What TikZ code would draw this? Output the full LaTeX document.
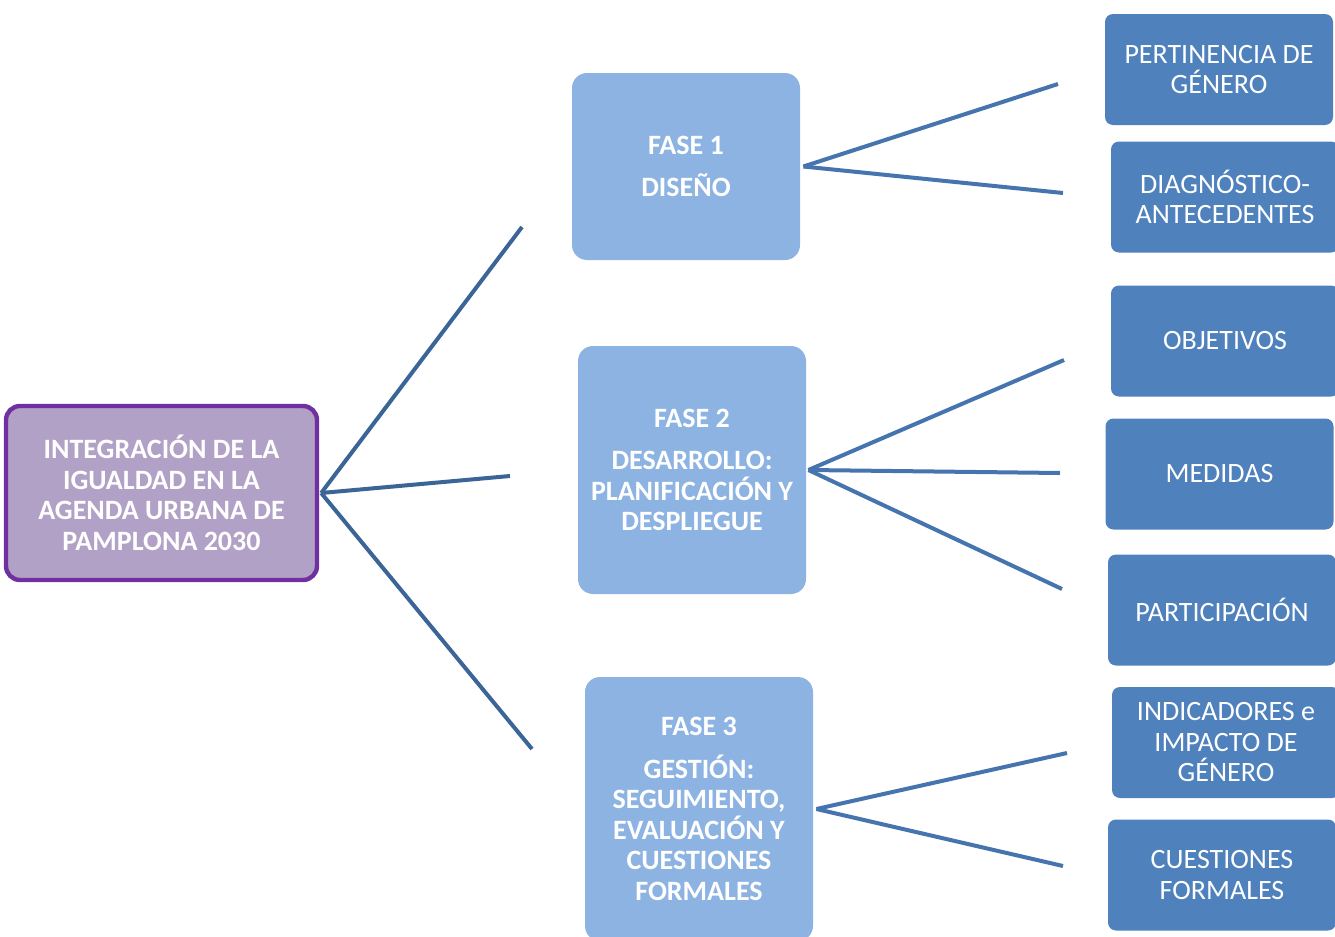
\documentclass[tikz,border=0pt]{standalone}
\usepackage{fontspec}
\setmainfont{Carlito}
\usepackage{xcolor}
\definecolor{moradoborde}{HTML}{7030A0}
\definecolor{moradofondo}{HTML}{B2A1C7}
\definecolor{fasefondo}{HTML}{8DB3E2}
\definecolor{itemfondo}{HTML}{4F81BD}
\definecolor{ramaizq}{HTML}{3B6597}
\definecolor{ramader}{HTML}{4674AE}

\begin{document}
\begin{tikzpicture}[x=0.5pt,y=-0.5pt,
  raiz/.style={draw=moradoborde, line width=2.2pt, fill=moradofondo, rounded corners=7pt,
    minimum width=155.5pt, minimum height=87pt, align=center, text=white,
    font=\fontsize{14}{15.25}\selectfont\bfseries},
  fase/.style={fill=fasefondo, rounded corners=7.5pt, minimum width=114pt,
    align=center, text=white, font=\fontsize{14}{15.25}\selectfont\bfseries},
  item/.style={fill=itemfondo, rounded corners=4pt, minimum width=114pt, minimum height=55.5pt,
    align=center, text=white, font=\fontsize{14}{15.25}\selectfont},
  rama/.style={ramaizq, line width=2pt},
  subrama/.style={ramader, line width=2pt}]
\useasboundingbox (0,0) rectangle (1335,937);

% Central node
\node[raiz] (raiz) at (161.5,493) {INTEGRACIÓN DE LA\\IGUALDAD EN LA\\AGENDA URBANA DE\\PAMPLONA 2030};

% Phases
\node[fase, minimum height=93.5pt] (fase1) at (686,166.5) {FASE 1\\[6pt]DISEÑO};
\node[fase, minimum height=124pt] (fase2) at (692,470) {FASE 2\\[6pt]DESARROLLO:\\PLANIFICACIÓN Y\\DESPLIEGUE};
\node[fase, minimum height=132pt] (fase3) at (699,809) {FASE 3\\[6pt]GESTIÓN:\\SEGUIMIENTO,\\EVALUACIÓN Y\\CUESTIONES\\FORMALES};

% Items
\node[item] (pert) at (1219,69.5) {PERTINENCIA DE\\GÉNERO};
\node[item] (diag) at (1225,197) {DIAGNÓSTICO-\\ANTECEDENTES};
\node[item] (obj) at (1225,341) {OBJETIVOS};
\node[item] (med) at (1219.5,474) {MEDIDAS};
\node[item] (part) at (1222,610) {PARTICIPACIÓN};
\node[item] (ind) at (1226,742.5) {INDICADORES e\\IMPACTO DE\\GÉNERO};
\node[item] (cue) at (1222,875) {CUESTIONES\\FORMALES};

% Free ends of the branches
\coordinate (r1) at (522,227);
\coordinate (r2) at (510,476);
\coordinate (r3) at (532,749);
\coordinate (a1) at (1058,84);
\coordinate (a2) at (1063,193);
\coordinate (b1) at (1064,360);
\coordinate (b2) at (1060,473);
\coordinate (b3) at (1062,589);
\coordinate (c1) at (1067,753);
\coordinate (c2) at (1063,866);

% Branches
\foreach \e in {r1,r2,r3}
  \draw[rama] ([xshift=1pt]raiz.east) -- (\e);
\foreach \e in {a1,a2}
  \draw[subrama] ([xshift=1.5pt]fase1.east) -- (\e);
\foreach \e in {b1,b2,b3}
  \draw[subrama] ([xshift=1pt]fase2.east) -- (\e);
\foreach \e in {c1,c2}
  \draw[subrama] ([xshift=1.5pt]fase3.east) -- (\e);
\end{tikzpicture}
\end{document}
